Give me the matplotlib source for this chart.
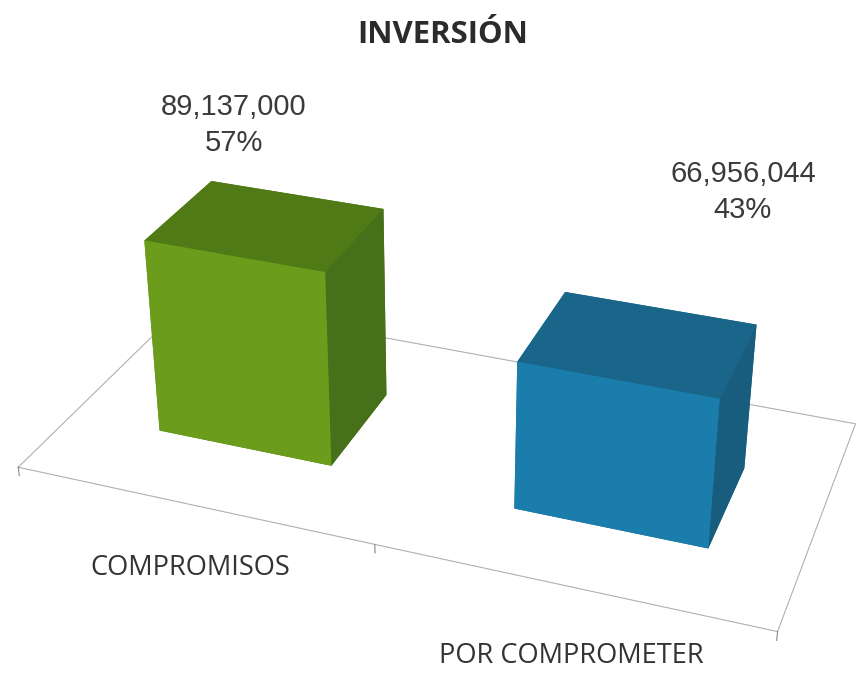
import matplotlib
matplotlib.use('Agg')
import matplotlib.pyplot as plt

categories = ['COMPROMISOS', 'POR COMPROMETER']
values = [89137000, 66956044]
percents = ['57%', '43%']

# caras: abajo, arriba, frente, atras, izquierda, derecha
green = ['#4a7a12', '#4f7a16', '#6c9c1c', '#4a7a12', '#6c9c1c', '#46701a']
blue = ['#1b6a8c', '#19668a', '#1a7dac', '#1b6a8c', '#1a7dac', '#195d7e']

W, H = 856, 674
fig = plt.figure(figsize=(W / 100, H / 100), dpi=100)
ax = fig.add_axes([7.1 / W, -12.3 / H, 1, 1], projection='3d', computed_zorder=False)
ax.set_proj_type('persp', focal_length=0.56)
ax.view_init(elev=29.17, azim=-69.58)
ax.set_xlim(0, 2)
ax.set_ylim(0, 1)
ax.set_zlim(0, 100000000)
ax.set_box_aspect((2, 0.975, 0.636), zoom=1.297)
ax.set_axis_off()

# piso y marcas del eje
ax.plot([0, 2, 2, 0, 0], [0, 0, 1, 1, 0], [0, 0, 0, 0, 0], color='#b0b0b0', lw=0.8, zorder=1, clip_on=False)
for x in [0, 1, 2]:
    ax.plot([x, x], [0, 0], [0, -4000000], color='#888888', lw=0.8, zorder=1, clip_on=False)

left = [0.26, 1.27]
front = [0.298, 0.275]
for i, v in enumerate(values):
    bar = ax.bar3d(left[i], front[i], 0, 0.5, 0.395, v, color=[green, blue][i], shade=False, zorder=2 + i)
    bar.set_clip_on(False)

fig.text(443 / W, 1 - 35 / H, 'INVERSIÓN', family='Open Sans', weight='bold', fontsize=22.4, color='#2b2b2b', ha='center', va='center')
fig.text(234 / W, 1 - 125 / H, f'{values[0]:,}\n{percents[0]}', family='Liberation Sans', fontsize=21, color='#3a3a3a', ha='center', va='center', linespacing=1.4)
fig.text(743 / W, 1 - 192 / H, f'{values[1]:,}\n{percents[1]}', family='Liberation Sans', fontsize=21, color='#3a3a3a', ha='center', va='center', linespacing=1.4)
fig.text(190 / W, 1 - 568 / H, categories[0], family='Open Sans', fontsize=19.6, color='#333333', ha='center', va='center')
fig.text(571 / W, 1 - 656 / H, categories[1], family='Open Sans', fontsize=19.6, color='#333333', ha='center', va='center')

fig.savefig('out.png', dpi=100)
